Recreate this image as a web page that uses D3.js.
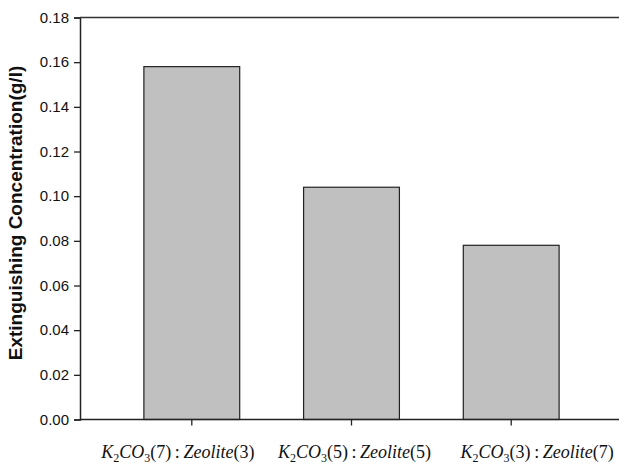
<!DOCTYPE html>
<html><head><meta charset="utf-8">
<script src="https://cdn.jsdelivr.net/npm/d3@7"></script>
<style>body{margin:0;background:#fff}svg{display:block}</style>
</head><body>
<script>
const categories = ["A","B","C"];
const ratioK = ["7","5","3"];
const ratioZ = ["3","5","7"];
const values = [0.158, 0.104, 0.078];
const yTicks = [0,0.02,0.04,0.06,0.08,0.10,0.12,0.14,0.16,0.18];

(function(){
const W=619,H=464;
const mLeft=80, mTop=17.5, mBottom=419.5;
const svg=d3.select("body").append("svg").attr("width",W).attr("height",H);
const x=d3.scaleBand().domain(categories).range([mLeft,623]).paddingInner(0.4).paddingOuter(0.4);
const y=d3.scaleLinear().domain([0,0.18]).range([mBottom,mTop]);

svg.selectAll("rect.bar").data(values).join("rect").attr("class","bar")
  .attr("x",(d,i)=>x(categories[i])).attr("width",x.bandwidth())
  .attr("y",d=>y(d)).attr("height",d=>y(0)-y(d))
  .attr("fill","#c0c0c0").attr("stroke","#222").attr("stroke-width",1.2);

const ya=svg.append("g").attr("transform",`translate(${mLeft},0)`)
  .call(d3.axisLeft(y).tickValues(yTicks).tickFormat(d3.format(".2f")).tickSize(6).tickPadding(5));
ya.select(".domain").attr("stroke","#222").attr("stroke-width",1.5);
ya.selectAll(".tick line").attr("stroke","#222").attr("stroke-width",1.3);
ya.selectAll(".tick text").attr("font-family","Arial, Liberation Sans, sans-serif").attr("font-size",15).attr("fill","#111");

const xa=svg.append("g").attr("transform",`translate(0,${mBottom})`)
  .call(d3.axisBottom(x).tickSize(6).tickFormat(""));
xa.select(".domain").remove();
xa.selectAll(".tick line").attr("stroke","#222").attr("stroke-width",1.3);
svg.append("line").attr("x1",mLeft).attr("x2",W).attr("y1",mBottom).attr("y2",mBottom).attr("stroke","#222").attr("stroke-width",1.5);
svg.append("line").attr("x1",mLeft).attr("x2",W).attr("y1",mTop).attr("y2",mTop).attr("stroke","#333").attr("stroke-width",1.5);

const labelShift=[-14,3,26];
categories.forEach((c,i)=>{
  const t=svg.append("text").attr("x",x(c)+x.bandwidth()/2+labelShift[i]).attr("y",458)
    .attr("text-anchor","middle").attr("font-family","Times New Roman, Liberation Serif, serif").attr("font-size",18).attr("fill","#111");
  t.append("tspan").attr("font-style","italic").text("K");
  t.append("tspan").attr("font-size",12).attr("dy",4).text("2");
  t.append("tspan").attr("font-style","italic").attr("dy",-4).text("CO");
  t.append("tspan").attr("font-size",12).attr("dy",4).text("3");
  t.append("tspan").attr("dy",-4).text("("+ratioK[i]+")\u2009:\u2009");
  t.append("tspan").attr("font-style","italic").text("Zeolite");
  t.append("tspan").text("("+ratioZ[i]+")");
});

svg.append("text").attr("transform","translate(22,213) rotate(-90)").attr("text-anchor","middle")
  .attr("font-family","Arial, Liberation Sans, sans-serif").attr("font-weight","bold").attr("font-size",19).attr("fill","#111")
  .text("Extinguishing Concentration(g/l)");
})();
</script>
</body></html>
